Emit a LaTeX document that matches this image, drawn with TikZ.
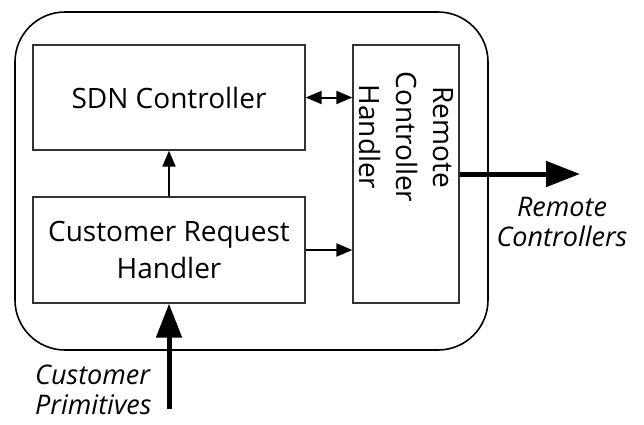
\documentclass[tikz,border=0pt]{standalone}
\usepackage{fontspec}
\setmainfont{Open Sans}
\usetikzlibrary{arrows.meta}
\begin{document}
\begin{tikzpicture}[x=1pt,y=-1pt,
    box/.style={draw=black!80,line width=1.3pt,minimum width=#1},
    boxtext/.style={font=\fontsize{28}{37}\selectfont,align=center},
    outtext/.style={font=\fontsize{27}{30}\selectfont\itshape,inner sep=0pt},
    thinarrow/.style={line width=2pt,-{Triangle[length=16pt,width=13pt]}},
    twoarrow/.style={line width=2pt,{Triangle[length=16pt,width=13pt]}-{Triangle[length=16pt,width=13pt]}},
    thickarrow/.style={line width=5pt,-{Triangle[length=34pt,width=25pt]}}]
          \useasboundingbox (0,0) rectangle (644,424);
          \draw[line width=1.6pt,rounded corners=50pt] (15,12) rectangle (488,350);
          \node[box=272pt,minimum height=105pt,boxtext] (sdn) at (169,97.5) {SDN Controller};
          \node[box=272pt,minimum height=106pt,boxtext] (crh) at (169,250) {Customer Request\\Handler};
          \node[box=106pt,minimum height=258pt] (rch) at (406,174) {};
          \node[boxtext,rotate=-90] (rchtext) at (406,137) {Remote\\Controller\\Handler};
          \coordinate (remote) at (580,174);
          \coordinate (prim) at (169,409);
          \draw[twoarrow] (sdn.east) -- (sdn.east -| rch.west);
          \draw[thinarrow] (crh.north) -- (sdn.south);
          \draw[thinarrow] (crh.east) -- (crh.east -| rch.west);
          \draw[thickarrow] (rch.east) -- (remote);
          \draw[thickarrow] (prim) -- (crh.south);
          \node[outtext,align=center] (remotelabel) at (562,222) {Remote\\Controllers};
          \node[outtext,align=left,anchor=west] (primlabel) at (35,390) {Customer\\Primitives};
        \end{tikzpicture}
\end{document}
